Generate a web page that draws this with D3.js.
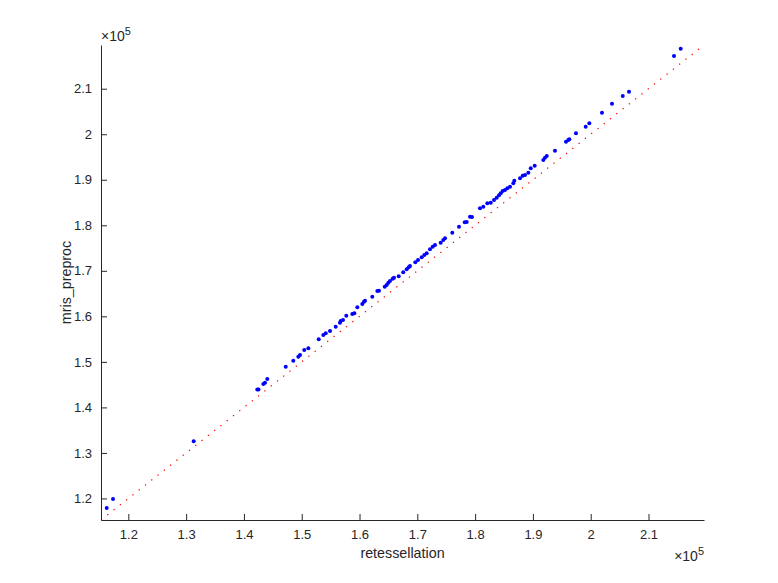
<!DOCTYPE html>
<html>
<head>
<meta charset="utf-8">
<script src="https://cdn.jsdelivr.net/npm/d3@7"></script>
<style>
  body { margin: 0; background: #fff; }
  svg { display: block; font-family: "Liberation Sans", Arial, Helvetica, sans-serif; }
</style>
</head>
<body>
<svg id="chart" width="778" height="583"></svg>
<script>
// values in thousands (x 1e3); axis shows them scaled by 1e5
const retessellation = [
  116.26, 117.35, 131.31, 142.31, 142.52, 143.35, 143.65, 144.04, 147.23, 148.54,
  149.41, 149.70, 150.44, 151.14, 152.94, 153.73, 154.15, 154.89, 155.88, 156.62,
  156.74, 157.14, 157.71, 158.75, 159.10, 159.62, 160.48, 160.77, 160.95, 162.21,
  163.08, 163.37, 164.36, 164.70, 164.98, 165.27, 165.74, 165.96, 166.78, 167.57,
  168.16, 168.51, 168.73, 169.65, 170.12, 170.76, 171.21, 171.62, 172.19, 172.66,
  173.06, 174.04, 174.49, 174.79, 176.05, 177.21, 178.20, 178.54, 179.11, 179.46,
  180.84, 181.42, 182.11, 182.70, 183.27, 183.73, 184.13, 184.43, 184.77, 185.17,
  185.57, 186.04, 186.61, 186.78, 187.77, 188.23, 188.63, 189.20, 189.62, 190.31,
  191.80, 192.09, 192.39, 193.82, 195.72, 196.12, 196.30, 197.45, 199.13, 199.76,
  201.95, 203.68, 205.54, 206.62, 214.41, 215.57
];
const mrisPreproc = [
  117.91, 119.88, 132.56, 143.93, 143.95, 145.14, 145.43, 146.24, 148.94, 150.26,
  151.14, 151.51, 152.61, 152.98, 154.96, 155.90, 156.28, 156.78, 157.73, 158.60,
  158.98, 159.20, 160.14, 160.52, 160.67, 161.99, 162.71, 163.22, 163.44, 164.32,
  165.57, 165.63, 166.51, 166.89, 167.39, 167.76, 168.27, 168.49, 168.80, 169.67,
  170.33, 170.77, 171.06, 171.87, 172.38, 172.97, 173.47, 173.85, 174.73, 175.30,
  175.67, 176.18, 176.77, 177.14, 178.37, 179.69, 180.66, 180.72, 181.89, 181.80,
  183.73, 184.08, 184.83, 184.96, 185.55, 186.06, 186.59, 187.03, 187.53, 187.75,
  188.12, 188.48, 189.22, 189.79, 190.32, 190.89, 191.05, 191.55, 192.52, 193.09,
  194.34, 194.85, 195.22, 196.38, 198.36, 198.73, 198.89, 200.20, 201.65, 202.40,
  204.73, 206.71, 208.40, 209.34, 217.18, 218.79
];
const axisLimits = [115.27, 219.60];
const tickValues = [120, 130, 140, 150, 160, 170, 180, 190, 200, 210];
const tickLabels = ["1.2", "1.3", "1.4", "1.5", "1.6", "1.7", "1.8", "1.9", "2", "2.1"];
const xLabel = "retessellation";
const yLabel = "mris_preproc";

const svg = d3.select("#chart");
const margin = { left: 101, right: 74, top: 45, bottom: 63 };
const W = 778, H = 583;
const x = d3.scaleLinear().domain(axisLimits).range([margin.left, W - margin.right]);
const y = d3.scaleLinear().domain(axisLimits).range([H - margin.bottom, margin.top]);
const axisColor = "#262626";

// identity line (dotted red)
svg.append("line")
  .attr("x1", x(axisLimits[0])).attr("y1", y(axisLimits[0]))
  .attr("x2", x(axisLimits[1])).attr("y2", y(axisLimits[1]))
  .attr("stroke", "#ff0000").attr("stroke-width", 1.2)
  .attr("stroke-dasharray", "1.3,6.7");

// points
const data = retessellation.map((v, i) => ({ x: v, y: mrisPreproc[i] }));
svg.append("g").selectAll("circle").data(data).join("circle")
  .attr("cx", d => x(d.x)).attr("cy", d => y(d.y))
  .attr("r", 2).attr("fill", "#0000ff");

// axes
const xAxis = d3.axisBottom(x).tickValues(tickValues)
  .tickFormat((d, i) => tickLabels[i]).tickSizeInner(-6).tickSizeOuter(0).tickPadding(10);
const yAxis = d3.axisLeft(y).tickValues(tickValues)
  .tickFormat((d, i) => tickLabels[i]).tickSizeInner(-6).tickSizeOuter(0).tickPadding(9);

const gx = svg.append("g").attr("transform", `translate(0,${H - margin.bottom})`).call(xAxis);
const gy = svg.append("g").attr("transform", `translate(${margin.left},0)`).call(yAxis);
[gx, gy].forEach(g => {
  g.select(".domain").attr("stroke", axisColor).attr("stroke-width", 1);
  g.selectAll(".tick line").attr("stroke", axisColor);
  g.selectAll(".tick text").attr("fill", axisColor).attr("font-size", 13)
    .attr("font-family", "'Liberation Sans', Arial, Helvetica, sans-serif");
});

// axis labels
svg.append("text").attr("x", (x.range()[0] + x.range()[1]) / 2).attr("y", 558)
  .attr("text-anchor", "middle").attr("font-size", 14.3).attr("fill", axisColor).text(xLabel);
svg.append("text")
  .attr("transform", `translate(71,${(y.range()[0] + y.range()[1]) / 2}) rotate(-90)`)
  .attr("text-anchor", "middle").attr("font-size", 14.3).attr("fill", axisColor).text(yLabel);

// exponent labels
function expLabel(px, py, anchor) {
  const t = svg.append("text").attr("x", px).attr("y", py).attr("text-anchor", anchor)
    .attr("font-size", 14).attr("fill", axisColor);
  t.append("tspan").text("\u00d710");
  t.append("tspan").attr("dy", -6).attr("font-size", 11).text("5");
}
expLabel(101, 41, "start");
expLabel(704, 561, "end");
</script>
</body>
</html>
